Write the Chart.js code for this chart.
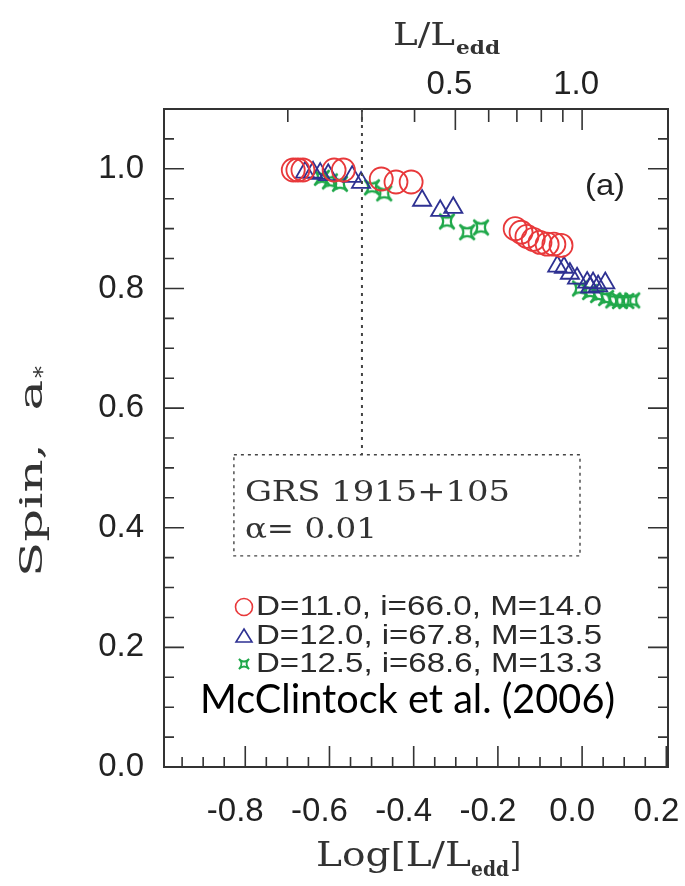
<!DOCTYPE html>
<html lang="en">
<head>
<meta charset="UTF-8" />
<title>GRS 1915+105 spin vs Log[L/Ledd]</title>
<script src="https://cdn.jsdelivr.net/npm/chart.js"></script>
<style>
  html, body { margin: 0; padding: 0; background: #fff; }
  #wrap { width: 685px; height: 886px; }
</style>
</head>
<body>
<div id="wrap"><canvas id="spinChart" width="685" height="886"></canvas></div>
<script>
// values: x = Log[L/Ledd], y = spin a*
const redX = [-0.686, -0.675, -0.663, -0.589, -0.567, -0.477, -0.442, -0.406,
              -0.159, -0.145, -0.131, -0.116, -0.100, -0.083, -0.067, -0.050];
const redY = [0.998, 0.998, 0.998, 0.998, 0.998, 0.983, 0.978, 0.978,
              0.900, 0.894, 0.887, 0.882, 0.877, 0.874, 0.874, 0.872];

const blueX = [-0.658, -0.639, -0.622, -0.603, -0.546, -0.525, -0.380, -0.337, -0.306,
               -0.059, -0.043, -0.029, -0.012, 0.012, 0.019, 0.026, 0.038, 0.055];
const blueY = [0.994, 0.994, 0.992, 0.990, 0.987, 0.977, 0.947, 0.930, 0.935,
               0.837, 0.835, 0.825, 0.817, 0.810, 0.802, 0.809, 0.804, 0.809];

const greenX = [-0.618, -0.599, -0.575, -0.499, -0.470, -0.321, -0.273, -0.240,
                -0.005, 0.019, 0.038, 0.057, 0.074, 0.090, 0.105, 0.119];
const greenY = [0.985, 0.979, 0.975, 0.969, 0.959, 0.912, 0.894, 0.902,
                0.800, 0.794, 0.789, 0.784, 0.780, 0.779, 0.779, 0.780];

const seriesLabels = ["D=11.0, i=66.0, M=14.0", "D=12.0, i=67.8, M=13.5", "D=12.5, i=68.6, M=13.3"];

// axes
const xMajor = [-0.8, -0.6, -0.4, -0.2, 0.0, 0.2];
const xMinor = [-0.95, -0.9, -0.85, -0.75, -0.7, -0.65, -0.55, -0.5, -0.45, -0.35, -0.3, -0.25,
                -0.15, -0.1, -0.05, 0.05, 0.1, 0.15];
const yMajor = [0.0, 0.2, 0.4, 0.6, 0.8, 1.0];
const yMinor = [0.05, 0.1, 0.15, 0.25, 0.3, 0.35, 0.45, 0.5, 0.55, 0.65, 0.7, 0.75,
                0.85, 0.9, 0.95, 1.05];
const topMajor = [0.5, 1.0];            // L/Ledd
const topMajorLabels = ["0.5", "1.0"];
const topMinor = [0.2, 0.3, 0.4, 0.6, 0.7, 0.8, 0.9];

// annotations (data units)
const cutLum = 0.3;                      // dotted line at L/Ledd = 0.3
const boxX = [-0.827, -0.005];
const boxY = [0.353, 0.522];

const RED = "#e8383a", BLUE = "#2e3192", GREEN = "#1fa84a";

// 4-pointed concave star marker
function starSprite(size, color, lw) {
  const c = document.createElement("canvas");
  c.width = c.height = size;
  const g = c.getContext("2d");
  const m = size / 2, R = size / 2 - lw;
  g.strokeStyle = color;
  g.lineWidth = lw;
  g.beginPath();
  for (let k = 0; k <= 4; k++) {
    const a = k * Math.PI / 2 + Math.PI / 4;
    const px = m + R * Math.cos(a), py = m + R * Math.sin(a);
    if (k === 0) g.moveTo(px, py);
    else g.quadraticCurveTo(m, m, px, py);
  }
  g.stroke();
  return c;
}

function pts(xs, ys) { return xs.map((x, i) => ({ x: x, y: ys[i] })); }

function fitText(g, text, x, y, width) {
  const w = g.measureText(text).width;
  g.save();
  g.translate(x, y);
  g.scale(width / w, 1);
  g.fillText(text, 0, 0);
  g.restore();
}

// no extra room for edge labels: keep the frame where the figure has it
function noPad(s) { s.paddingLeft = 0; s.paddingRight = 0; s.paddingTop = 0; s.paddingBottom = 0; }

const decor = {
  id: "decor",
  afterDraw(chart) {
    const g = chart.ctx;
    const a = chart.chartArea;
    const sx = chart.scales.x, sy = chart.scales.y;
    g.save();

    // frame
    g.strokeStyle = "#333";
    g.lineWidth = 2;
    g.strokeRect(a.left, a.top, a.right - a.left, a.bottom - a.top);

    // inward ticks
    g.lineWidth = 1.6;
    g.beginPath();
    xMajor.forEach(v => { const p = sx.getPixelForValue(v); g.moveTo(p, a.bottom); g.lineTo(p, a.bottom - 21); });
    xMinor.forEach(v => { const p = sx.getPixelForValue(v); g.moveTo(p, a.bottom); g.lineTo(p, a.bottom - 10); });
    yMajor.forEach(v => {
      const p = sy.getPixelForValue(v);
      g.moveTo(a.left, p); g.lineTo(a.left + 20, p);
      g.moveTo(a.right, p); g.lineTo(a.right - 20, p);
    });
    yMinor.forEach(v => {
      const p = sy.getPixelForValue(v);
      g.moveTo(a.left, p); g.lineTo(a.left + 10, p);
      g.moveTo(a.right, p); g.lineTo(a.right - 10, p);
    });
    topMajor.forEach(v => { const p = sx.getPixelForValue(Math.log10(v)); g.moveTo(p, a.top); g.lineTo(p, a.top + 21); });
    topMinor.forEach(v => { const p = sx.getPixelForValue(Math.log10(v)); g.moveTo(p, a.top); g.lineTo(p, a.top + 13); });
    g.stroke();

    // dotted line and box
    g.strokeStyle = "#444";
    g.lineWidth = 2;
    g.setLineDash([3, 5]);
    const cx = sx.getPixelForValue(Math.log10(cutLum));
    g.beginPath();
    g.moveTo(cx, a.top);
    g.lineTo(cx, sy.getPixelForValue(boxY[1]));
    g.stroke();
    g.lineWidth = 1.4;
    g.setLineDash([3, 4]);
    const bl = sx.getPixelForValue(boxX[0]), br = sx.getPixelForValue(boxX[1]);
    const bt = sy.getPixelForValue(boxY[1]), bb = sy.getPixelForValue(boxY[0]);
    g.strokeRect(bl, bt, br - bl, bb - bt);
    g.setLineDash([]);

    // box text
    g.fillStyle = "#333";
    g.textBaseline = "alphabetic";
    g.textAlign = "left";
    g.font = "27px 'DejaVu Serif'";
    fitText(g, "GRS 1915+105", bl + 11, bt + 46, 265);
    fitText(g, "\u03b1= 0.01", bl + 11, bt + 83, 132);

    // panel label
    g.font = "29px 'Liberation Sans'";
    g.fillStyle = "#222";
    fitText(g, "(a)", 585, 195, 40);

    // legend
    const lx = 244, ly = [607, 636, 664];
    g.lineWidth = 1.6;
    g.strokeStyle = RED;
    g.beginPath(); g.arc(lx, ly[0], 8.5, 0, Math.PI * 2); g.stroke();
    g.strokeStyle = BLUE;
    g.beginPath();
    g.moveTo(lx, ly[1] - 7); g.lineTo(lx + 8, ly[1] + 6); g.lineTo(lx - 8, ly[1] + 6); g.closePath();
    g.stroke();
    g.drawImage(starSprite(18, GREEN, 1.8), lx - 9, ly[2] - 9);
    g.font = "27px 'Liberation Sans'";
    g.fillStyle = "#2a2a2a";
    g.textBaseline = "middle";
    seriesLabels.forEach((t, i) => fitText(g, t, lx + 12, ly[i] + 1, 346));

    // citation
    g.font = "41px Lato";
    g.fillStyle = "#000";
    g.textBaseline = "middle";
    fitText(g, "McClintock et al. (2006)", 200, 700, 415);

    // axis titles
    g.fillStyle = "#333";
    g.textBaseline = "alphabetic";
    g.font = "33px 'DejaVu Serif'";
    fitText(g, "Log[L/L", 316, 866, 155);
    g.font = "bold 20px 'DejaVu Serif'";
    fitText(g, "edd", 471, 876, 38);
    g.font = "33px 'DejaVu Serif'";
    fitText(g, "]", 510, 866, 11);

    g.font = "31px 'DejaVu Serif'";
    fitText(g, "L/L", 393, 45, 62);
    g.font = "bold 19px 'DejaVu Serif'";
    fitText(g, "edd", 456, 54, 44);

    g.save();
    g.translate(42, 577);
    g.rotate(-Math.PI / 2);
    g.font = "31px 'DejaVu Serif'";
    fitText(g, "Spin,  a", 0, 0, 197);
    g.font = "22px 'DejaVu Serif'";
    fitText(g, "*", 199, 8, 12);
    g.restore();

    g.restore();
  }
};

new Chart(document.getElementById("spinChart").getContext("2d"), {
  type: "scatter",
  data: {
    datasets: [
      { label: seriesLabels[0], data: pts(redX, redY), pointStyle: "circle", pointRadius: 11.5,
        borderColor: RED, backgroundColor: "rgba(0,0,0,0)", borderWidth: 1.8 },
      { label: seriesLabels[1], data: pts(blueX, blueY), pointStyle: "triangle", pointRadius: 10.5,
        borderColor: BLUE, backgroundColor: "rgba(0,0,0,0)", borderWidth: 1.8 },
      { label: seriesLabels[2], data: pts(greenX, greenY), pointStyle: starSprite(26, GREEN, 2.2),
        borderColor: GREEN, backgroundColor: "rgba(0,0,0,0)" }
    ]
  },
  options: {
    responsive: false,
    animation: false,
    layout: { padding: { left: 0, right: 17, top: 0, bottom: 0 } },
    plugins: { legend: { display: false }, tooltip: { enabled: false } },
    scales: {
      x: {
        type: "linear", position: "bottom", min: -0.993, max: 0.204,
        grid: { display: false, drawTicks: false }, border: { display: false },
        afterBuildTicks: s => { s.ticks = xMajor.map(v => ({ value: v })); },
        afterFit: s => { s.height = 119; noPad(s); },
        ticks: { padding: 25, labelOffset: -10, color: "#222", autoSkip: false, maxRotation: 0,
                 font: { family: "Liberation Sans", size: 33 },
                 callback: v => v.toFixed(1) }
      },
      xTop: {
        type: "linear", position: "top", min: -0.993, max: 0.204,
        grid: { display: false, drawTicks: false }, border: { display: false },
        afterBuildTicks: s => { s.ticks = topMajor.map(v => ({ value: Math.log10(v) })); },
        afterFit: s => { s.height = 109; noPad(s); },
        ticks: { padding: 4, labelOffset: -6, color: "#222", autoSkip: false, maxRotation: 0,
                 font: { family: "Liberation Sans", size: 33 },
                 callback: (v, i) => topMajorLabels[i] }
      },
      y: {
        type: "linear", position: "left", min: 0, max: 1.1,
        grid: { display: false, drawTicks: false }, border: { display: false },
        afterBuildTicks: s => { s.ticks = yMajor.map(v => ({ value: v })); },
        afterFit: s => { s.width = 164; noPad(s); },
        ticks: { padding: 20, color: "#222", autoSkip: false,
                 font: { family: "Liberation Sans", size: 33 },
                 callback: v => v.toFixed(1) }
      }
    }
  },
  plugins: [decor]
});
</script>
</body>
</html>
